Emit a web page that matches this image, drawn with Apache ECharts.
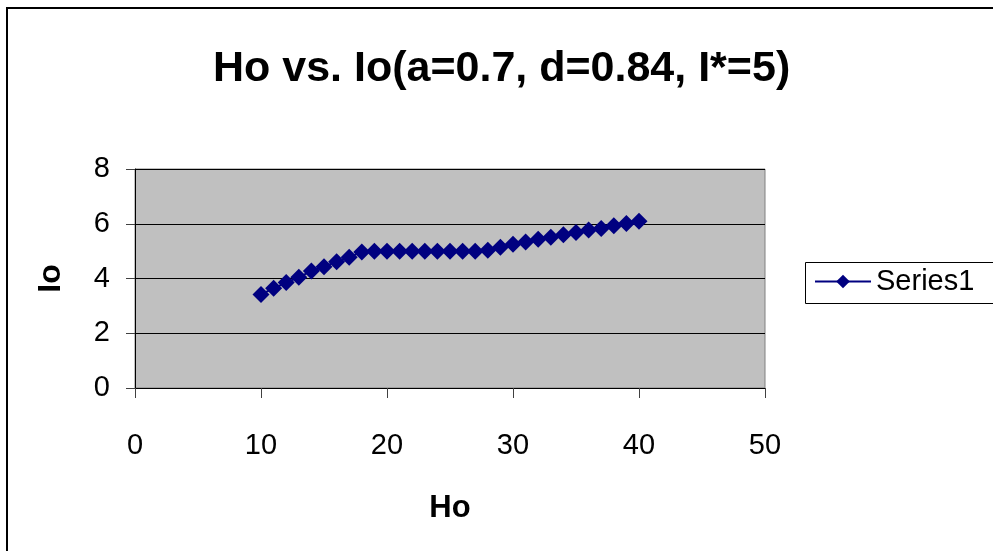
<!DOCTYPE html>
<html>
<head>
<meta charset="utf-8">
<script src="https://cdn.jsdelivr.net/npm/echarts@6/dist/echarts.min.js"></script>
<style>
  html, body { margin: 0; padding: 0; background: #fff; }
  #chart { width: 993px; height: 551px; }
</style>
</head>
<body>
<div id="chart"></div>
<script>
    // Ho values (x) and Io values (y)
    var hoValues = [10, 11, 12, 13, 14, 15, 16, 17, 18, 19,
                    20, 21, 22, 23, 24, 25, 26, 27,
                    28, 29, 30, 31, 32, 33, 34, 35, 36, 37, 38, 39, 40];
    var ioValues = [3.42, 3.64, 3.85, 4.05, 4.27, 4.43, 4.61, 4.78, 4.97, 5.0,
                    5.0, 5.0, 5.0, 5.0, 5.0, 5.0, 5.0, 5.0,
                    5.03, 5.14, 5.25, 5.33, 5.43, 5.51, 5.6, 5.68, 5.77, 5.83, 5.93, 6.01, 6.09];
    var seriesName = 'Series1';
    var chartTitle = 'Ho vs. Io(a=0.7, d=0.84, I*=5)';

    var font = "'Liberation Sans', Arial, sans-serif";

    var myChart = echarts.init(document.getElementById('chart'));
    var option = {
        animation: false,
        backgroundColor: '#fff',
        title: {
            text: chartTitle,
            left: 213,
            top: 48,
            padding: 0,
            textStyle: { fontFamily: font, fontSize: 43, fontWeight: 'bold', color: '#000' }
        },
        legend: {
            left: 805,
            top: 262,
            padding: [5, 10, 5, 9],
            itemWidth: 56,
            itemHeight: 17,
            itemGap: 8,
            textStyle: { fontFamily: font, fontSize: 29, color: '#000' },
            data: [seriesName]
        },
        grid: {
            left: 135,
            right: 228,
            top: 169,
            bottom: 163,
            show: true,
            backgroundColor: '#c0c0c0',
            borderColor: '#808080',
            borderWidth: 1
        },
        xAxis: {
            type: 'value',
            min: 0,
            max: 50,
            interval: 10,
            name: 'Ho',
            nameLocation: 'middle',
            nameGap: 105,
            nameTextStyle: { fontFamily: font, fontSize: 31, fontWeight: 'bold', color: '#000' },
            axisLine: { show: true, lineStyle: { color: '#000', width: 1 } },
            axisTick: { show: true, length: 10, lineStyle: { color: '#404040' } },
            axisLabel: { margin: 43, fontFamily: font, fontSize: 29, color: '#000' },
            splitLine: { show: false }
        },
        yAxis: {
            type: 'value',
            min: 0,
            max: 8,
            interval: 2,
            name: 'Io',
            nameLocation: 'middle',
            nameGap: 68,
            nameRotate: 90,
            nameTextStyle: { fontFamily: font, fontSize: 32, fontWeight: 'bold', color: '#000' },
            axisLine: { show: true, lineStyle: { color: '#000', width: 1 } },
            axisTick: { show: true, length: 9, lineStyle: { color: '#404040' } },
            axisLabel: { margin: 25, fontFamily: font, fontSize: 29, color: '#000' },
            splitLine: { show: true, lineStyle: { color: '#000', width: 1 } }
        },
        // outer chart frame and the legend box, both running off the right edge
        graphic: [{
            type: 'rect',
            shape: { x: 7, y: 8, width: 1000, height: 600 },
            style: { fill: null, stroke: '#000', lineWidth: 2 },
            silent: true,
            z: -1
        }, {
            type: 'rect',
            shape: { x: 805.5, y: 262.5, width: 250, height: 41 },
            style: { fill: '#fff', stroke: '#000', lineWidth: 1 },
            silent: true,
            z: 0
        }],
        series: [{
            name: seriesName,
            type: 'line',
            data: hoValues.map(function(h, i) { return [h, ioValues[i]]; }),
            symbol: 'diamond',
            symbolSize: 17,
            color: '#000080',
            lineStyle: { color: '#000080', width: 2 },
            itemStyle: { color: '#000080' }
        }]
    };
    myChart.setOption(option);
</script>
</body>
</html>
